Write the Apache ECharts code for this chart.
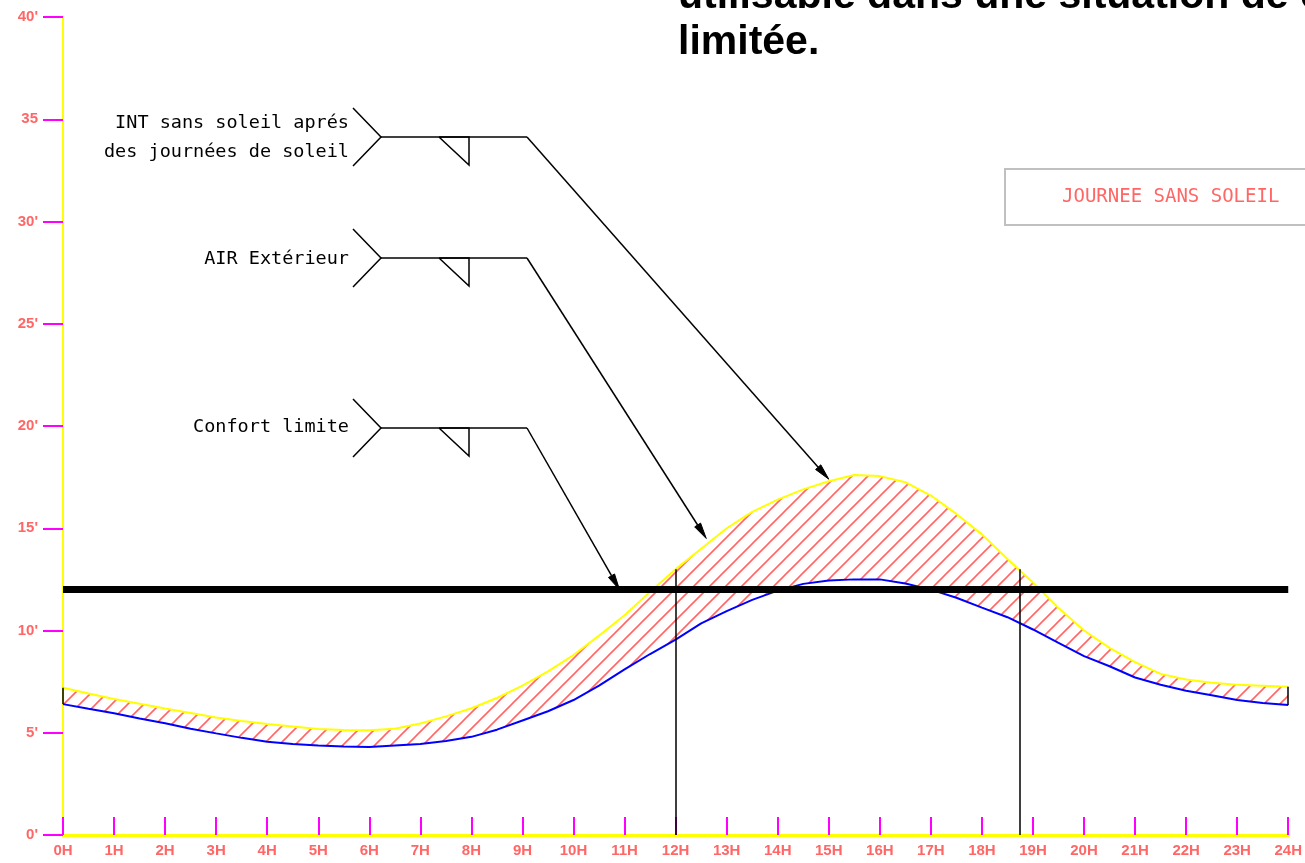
<!DOCTYPE html>
<html>
<head>
<meta charset="utf-8">
<script src="https://cdn.jsdelivr.net/npm/echarts@6/dist/echarts.min.js"></script>
<style>
  html, body { margin: 0; padding: 0; background: #ffffff; }
  #chart { width: 1305px; height: 863px; }
</style>
</head>
<body>
<div id="chart"></div>
<script>
// Hours of the day (half-hour steps)
const hours = [0, 0.5, 1, 1.5, 2, 2.5, 3, 3.5, 4, 4.5, 5, 5.5, 6, 6.5, 7, 7.5, 8, 8.5, 9, 9.5,
  10, 10.5, 11, 11.5, 12, 12.5, 13, 13.5, 14, 14.5, 15, 15.5, 16, 16.5, 17, 17.5, 18, 18.5, 19, 19.5,
  20, 20.5, 21, 21.5, 22, 22.5, 23, 23.5, 24];

// Indoor temperature without sun after sunny days (yellow)
const intTemp = [7.2, 6.92, 6.65, 6.42, 6.19, 5.97, 5.75, 5.58, 5.43, 5.3, 5.18, 5.13, 5.12, 5.2, 5.45, 5.8,
  6.2, 6.7, 7.3, 8.0, 8.8, 9.75, 10.75, 11.9, 13.0, 14.0, 15.0, 15.8, 16.4, 16.9, 17.3, 17.6, 17.55,
  17.25, 16.6, 15.7, 14.7, 13.5, 12.35, 11.1, 10.0, 9.15, 8.45, 7.88, 7.6, 7.45, 7.35, 7.3, 7.25];

// Outdoor air temperature (blue)
const extTemp = [6.4, 6.17, 5.95, 5.7, 5.46, 5.2, 4.97, 4.75, 4.56, 4.45, 4.38, 4.33, 4.3, 4.38, 4.45, 4.6,
  4.8, 5.15, 5.6, 6.05, 6.6, 7.3, 8.1, 8.85, 9.55, 10.35, 10.95, 11.5, 11.95, 12.28, 12.45, 12.5, 12.5,
  12.3, 12.0, 11.6, 11.12, 10.65, 10.05, 9.4, 8.75, 8.25, 7.7, 7.35, 7.05, 6.83, 6.6, 6.45, 6.36];

// Axis tick labels
const hourLabels = ['0H', '1H', '2H', '3H', '4H', '5H', '6H', '7H', '8H', '9H', '10H', '11H', '12H',
  '13H', '14H', '15H', '16H', '17H', '18H', '19H', '20H', '21H', '22H', '23H', '24H'];
const tempLabels = ["0'", "5'", "10'", "15'", "20'", "25'", "30'", "35", "40'"];

// Comfort threshold and the occupied period
const comfortLimit = 12;
const periodStart = 12;
const periodEnd = 18.75;
const periodTop = 13;

// Callout texts and the point each arrow designates
const calloutTexts = [
  ['INT sans soleil aprés', 'des journées de soleil'],
  ['AIR Extérieur'],
  ['Confort limite']
];
const calloutTargets = [[15.0, 17.4], [12.6, 14.5], [10.9, 12]];

const titleLines = ['utilisable dans une situation de confort', 'limitée.'];
const legendText = 'JOURNEE SANS SOLEIL';

const SALMON = '#ff6666';
const MAGENTA = '#ff00ff';
const YELLOW = '#ffff00';

// Diagonal hatch tile used to fill the band between the two curves
function hatchTile(size, color, width) {
  const c = document.createElement('canvas');
  c.width = size; c.height = size;
  const g = c.getContext('2d');
  g.strokeStyle = color;
  g.lineWidth = width;
  g.beginPath();
  g.moveTo(-1, size + 1); g.lineTo(size + 1, -1);
  g.moveTo(-size / 2 - 1, size / 2 + 1); g.lineTo(size / 2 + 1, -size / 2 - 1);
  g.moveTo(size / 2 - 1, size * 1.5 + 1); g.lineTo(size * 1.5 + 1, size / 2 - 1);
  g.stroke();
  return c;
}
const hatch = hatchTile(16, SALMON, 1.6);

const extPoints = hours.map((h, i) => [h, extTemp[i]]);
const intPoints = hours.map((h, i) => [h, intTemp[i]]);
const last = hours.length - 1;

const chart = echarts.init(document.getElementById('chart'), null, { renderer: 'canvas' });

chart.setOption({
  backgroundColor: '#ffffff',
  animation: false,
  grid: { left: 63, right: 15, top: 17, bottom: 28, containLabel: false },
  xAxis: {
    type: 'value', min: 0, max: 24, interval: 1,
    axisLine: { show: true, lineStyle: { color: YELLOW, width: 3 } },
    axisTick: { show: true, inside: true, length: 18, lineStyle: { color: MAGENTA, width: 2 } },
    axisLabel: {
      show: true, margin: 8, color: SALMON, fontFamily: 'Liberation Sans', fontWeight: 'bold', fontSize: 15,
      showMinLabel: true, showMaxLabel: true,
      formatter: v => hourLabels[Math.round(v)]
    },
    splitLine: { show: false }
  },
  yAxis: {
    type: 'value', min: 0, max: 40, interval: 5,
    axisLine: { show: true, lineStyle: { color: YELLOW, width: 2 } },
    axisTick: { show: true, inside: false, length: 20, lineStyle: { color: MAGENTA, width: 2 } },
    axisLabel: {
      show: true, margin: 25, color: SALMON, fontFamily: 'Liberation Sans', fontWeight: 'bold', fontSize: 15,
      showMinLabel: true, showMaxLabel: true,
      formatter: v => tempLabels[Math.round(v / 5)]
    },
    splitLine: { show: false }
  },
  series: [
    {
      // hatched band between the indoor and outdoor curves
      name: 'hachures', type: 'custom', coordinateSystem: 'cartesian2d',
      data: [[0, 0]], silent: true, z: 1,
      renderItem: (params, api) => {
        const pts = [];
        for (let i = 0; i <= last; i++) pts.push(api.coord(intPoints[i]));
        for (let i = last; i >= 0; i--) pts.push(api.coord(extPoints[i]));
        return {
          type: 'polygon',
          shape: { points: pts },
          style: { fill: { image: hatch, repeat: 'repeat' }, stroke: null }
        };
      }
    },
    {
      name: 'INT sans soleil', type: 'line', data: intPoints, symbol: 'none',
      lineStyle: { color: YELLOW, width: 2 }, z: 2
    },
    {
      name: 'AIR Extérieur', type: 'line', data: extPoints, symbol: 'none',
      lineStyle: { color: '#0000ff', width: 2 }, z: 2
    },
    {
      name: 'Confort limite', type: 'line', data: [[0, comfortLimit], [24, comfortLimit]], symbol: 'none',
      lineStyle: { color: '#000000', width: 7 }, z: 3,
      markLine: {
        silent: true, symbol: 'none', label: { show: false },
        lineStyle: { color: '#000000', width: 1.5, type: 'solid' },
        data: [
          [{ coord: [periodStart, 0] }, { coord: [periodStart, periodTop] }],
          [{ coord: [periodEnd, 0] }, { coord: [periodEnd, periodTop] }],
          [{ coord: [0, extTemp[0]] }, { coord: [0, intTemp[0]] }],
          [{ coord: [24, extTemp[last]] }, { coord: [24, intTemp[last]] }]
        ]
      }
    }
  ]
});

// Callouts, title and legend box
const stroke = { stroke: '#000000', lineWidth: 1.5, fill: null };
const calloutY = [137, 258, 428];
const calloutTextY = [[123, 152], [259], [427]];
const graphics = [];

calloutTexts.forEach((lines, k) => {
  const y = calloutY[k];
  graphics.push({ type: 'polyline', shape: { points: [[353, y - 29], [381, y], [353, y + 29]] }, style: stroke });
  graphics.push({ type: 'polyline', shape: { points: [[381, y], [527, y]] }, style: stroke });
  graphics.push({ type: 'polyline', shape: { points: [[439, y], [469, y], [469, y + 28], [439, y]] }, style: stroke });
  const tip = chart.convertToPixel({ gridIndex: 0 }, calloutTargets[k]);
  const dx = tip[0] - 527, dy = tip[1] - y;
  const len = Math.sqrt(dx * dx + dy * dy);
  const ux = dx / len, uy = dy / len;
  const headLen = 16, headHalf = 3.5;
  const bx = tip[0] - ux * headLen, by = tip[1] - uy * headLen;
  graphics.push({ type: 'polyline', shape: { points: [[527, y], [bx, by]] }, style: stroke });
  graphics.push({
    type: 'polygon',
    shape: { points: [[tip[0], tip[1]], [bx - uy * headHalf, by + ux * headHalf], [bx + uy * headHalf, by - ux * headHalf]] },
    style: { fill: '#000000', stroke: '#000000', lineWidth: 1 }
  });
  lines.forEach((t, j) => {
    graphics.push({
      type: 'text',
      style: {
        text: t, x: 349, y: calloutTextY[k][j], align: 'right', verticalAlign: 'middle',
        font: '18.5px "DejaVu Sans Mono"', fill: '#000000'
      }
    });
  });
});

graphics.push({
  type: 'text',
  style: { text: titleLines[0], x: 678, y: -3.5, align: 'left', verticalAlign: 'middle',
    font: 'bold 41px "Liberation Sans"', fill: '#000000' }
});
graphics.push({
  type: 'text',
  style: { text: titleLines[1], x: 678, y: 43, align: 'left', verticalAlign: 'middle',
    font: 'bold 41px "Liberation Sans"', fill: '#000000' }
});

graphics.push({
  type: 'rect', shape: { x: 1005, y: 169, width: 340, height: 56 },
  style: { fill: null, stroke: '#c0c0c0', lineWidth: 2 }
});
graphics.push({
  type: 'text',
  style: { text: legendText, x: 1062, y: 197, align: 'left', verticalAlign: 'middle',
    font: '19px "DejaVu Sans Mono"', fill: SALMON }
});

chart.setOption({ graphic: graphics });
</script>
</body>
</html>
